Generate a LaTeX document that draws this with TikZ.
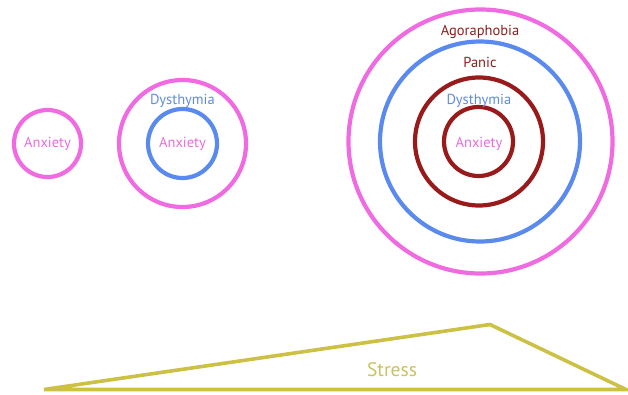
\documentclass[tikz,border=0pt]{standalone}
\usepackage{fontspec}
\setmainfont{PT Sans}
\definecolor{ringpink}{HTML}{F06AE2}
\definecolor{ringblue}{HTML}{5A8AEE}
\definecolor{ringred}{HTML}{981A1A}
\definecolor{stressline}{HTML}{CCC144}
\definecolor{txtpink}{HTML}{E86DDC}
\definecolor{txtblue}{HTML}{5F8BE8}
\definecolor{txtred}{HTML}{8E1E1E}
\definecolor{txtstress}{HTML}{C9C25E}
\begin{document}
\begin{tikzpicture}[x=1pt,y=-1pt,
  ring/.style={circle,draw,line width=4.2pt,inner sep=0pt,minimum size=#1},
  lbl/.style={font=\fontsize{14.5}{16}\selectfont,inner sep=0pt,anchor=base}]
\useasboundingbox (0,0) rectangle (628,394);

% single anxiety ring
\node[ring=67pt,ringpink] (a1) at (47.5,143.5) {};
\node[lbl,txtpink] (a1t) at (47.5,147) {Anxiety};

% anxiety inside dysthymia
\node[ring=127pt,ringpink] (d2) at (182.5,143.5) {};
\node[ring=69pt,ringblue] (a2) at (182.5,143.5) {};
\node[lbl,txtpink] (a2t) at (182.5,147) {Anxiety};
\node[lbl,txtblue] (d2t) at (182.5,104) {Dysthymia};

% four nested rings
\node[ring=264pt,ringpink] (g3) at (480.5,141.5) {};
\node[ring=200pt,ringblue] (p3) at (480,141.5) {};
\node[ring=128pt,ringred] (d3) at (479,141.5) {};
\node[ring=69pt,ringred] (a3) at (478.5,141.5) {};
\node[lbl,txtred] (g3t) at (480,35.5) {Agoraphobia};
\node[lbl,txtred] (p3t) at (480,67) {Panic};
\node[lbl,txtblue] (d3t) at (479,104) {Dysthymia};
\node[lbl,txtpink] (a3t) at (479,147) {Anxiety};

% stress wedge
\coordinate (sL) at (44,389.5);
\coordinate (sT) at (490,324.5);
\coordinate (sR) at (626,389.5);
\draw[stressline,line width=3.6pt,line join=miter] (sR) -- (sT) -- (sL) -- cycle;
\node[lbl,txtstress,font=\fontsize{19.5}{22}\selectfont] (st) at (392,376.5) {Stress};
\end{tikzpicture}
\end{document}
